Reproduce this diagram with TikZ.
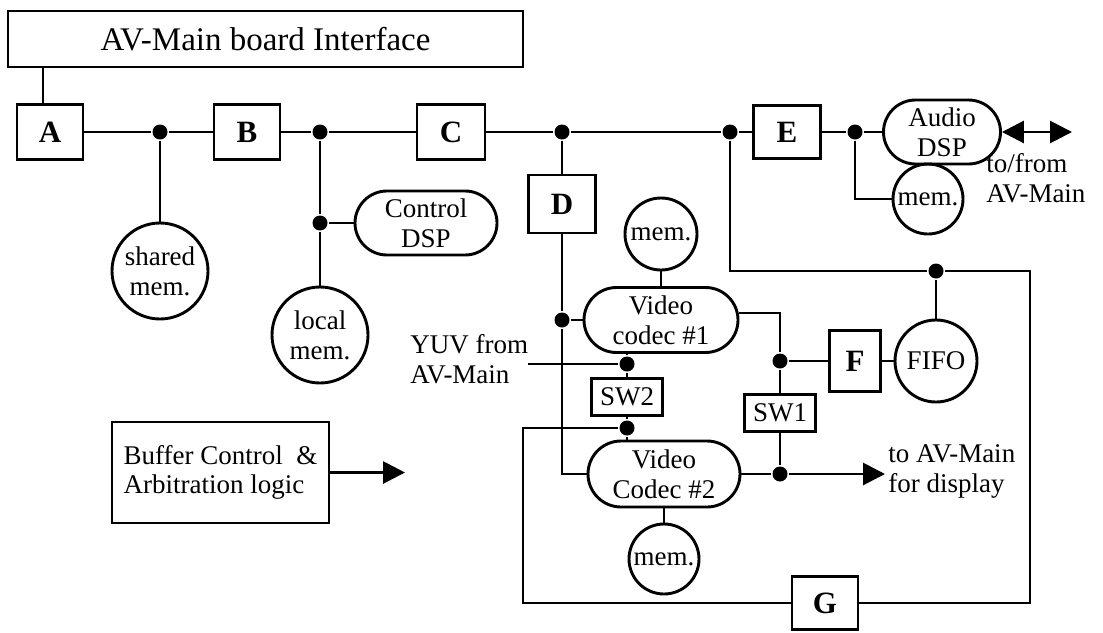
\documentclass[tikz,border=0pt]{standalone}
\usepackage{fontspec}
\setmainfont{Liberation Serif}
\usepackage{tikz}
\usetikzlibrary{shapes.misc,arrows.meta}
\tikzset{
    txt/.style={font=\fontsize{27}{30}\selectfont, inner sep=0pt, align=left},
    blk/.style={draw, inner sep=0pt, font=\fontsize{31}{32}\selectfont\bfseries},
    swbox/.style={draw, inner sep=0pt, minimum width=71pt, minimum height=37pt, font=\fontsize{27}{30}\selectfont},
    pill/.style={draw, rounded rectangle, inner sep=0pt, align=center, font=\fontsize{27}{30}\selectfont},
    memc/.style={draw, circle, inner sep=0pt, align=center, minimum size=#1, font=\fontsize{27}{30}\selectfont},
    jdot/.style={circle, fill, inner sep=0pt, minimum size=15pt},
    bigtip/.style={-{Triangle[length=22pt,width=22pt]}}
}
\begin{document}
\begin{tikzpicture}[x=1pt,y=-1pt,line width=2.9pt]
            \useasboundingbox (0,0) rectangle (1103,632);
            \node[draw,inner sep=0pt,minimum width=515pt,minimum height=56pt,font=\fontsize{33}{36}\selectfont] (iface) at (265.5,39) {AV-Main board Interface};
            \node[blk,minimum width=66pt,minimum height=55pt] (A) at (50,132) {A};
            \node[blk,minimum width=66pt,minimum height=55pt] (B) at (247,132) {B};
            \node[blk,minimum width=68pt,minimum height=55pt] (C) at (451,132) {C};
            \node[blk,minimum width=67pt,minimum height=58pt] (D) at (562,204) {D};
            \node[blk,minimum width=67pt,minimum height=53pt] (E) at (787,132) {E};
            \node[blk,minimum width=51pt,minimum height=61pt] (F) at (855,361) {F};
            \node[blk,minimum width=66pt,minimum height=53pt] (G) at (825,603) {G};
            \node[swbox] (sw2) at (627,397) {SW2};
            \node[swbox] (sw1) at (780,413) {SW1};
            \node[pill,minimum width=142pt,minimum height=64pt] (ctrl) at (426,223) {Control\\DSP};
            \node[pill,minimum width=117pt,minimum height=64pt] (audio) at (942,132) {Audio\\DSP};
            \node[pill,minimum width=154pt,minimum height=65pt] (codec1) at (661,320) {Video\\codec \#1};
            \node[pill,minimum width=152pt,minimum height=66pt] (codec2) at (664,474) {Video\\Codec \#2};
            \node[memc=96pt] (shared) at (160,271) {shared\\mem.};
            \node[memc=96pt] (local) at (320,335) {local\\mem.};
            \node[memc=72pt] (mem1) at (661,234) {mem.};
            \node[memc=70pt] (mem2) at (664,559) {mem.};
            \node[memc=70pt] (audmem) at (928,199) {mem.};
            \node[memc=82pt] (fifo) at (936,361) {FIFO};
            \node[draw,inner sep=0pt,minimum width=217pt,minimum height=101pt,align=left,font=\fontsize{27}{29}\selectfont] (buf) at (220.5,472.5) {Buffer Control\ \ \&\\Arbitration logic};
            \node[txt,anchor=west] (tofrom) at (985,178) {to/from\\AV-Main};
            \node[txt,anchor=west] (todisp) at (887,471) {to AV-Main\\for display};
            \node[txt,anchor=west] (yuv) at (409,359) {YUV from\\AV-Main};
            \node[jdot] (dshared) at (160,132) {};
            \node[jdot] (dlocal) at (320,132) {};
            \node[jdot] (dctrl) at (320,223) {};
            \node[jdot] (dd) at (562,132) {};
            \node[jdot] (de) at (730,132) {};
            \node[jdot] (daud) at (855,132) {};
            \node[jdot] (dcod1) at (562,320) {};
            \node[jdot] (dsw2a) at (627,364) {};
            \node[jdot] (dsw2b) at (627,428) {};
            \node[jdot] (dsw1a) at (780,361) {};
            \node[jdot] (dsw1b) at (780,474) {};
            \node[jdot] (dfifo) at (936,271) {};
            \coordinate (yuvin) at (528,364);
            \coordinate (gloop) at (523,428);
            \coordinate (fifocorner) at (1030,271);
            \coordinate (outtip) at (885,474);
            \coordinate (audtip) at (1072,132);
            \coordinate (buftip) at (405,472.5);
            \draw ([xshift=-7pt]A.north) -- ([xshift=-7pt]A.north |- iface.south);
            \draw (A.east) -- (dshared) -- (B.west);
            \draw (B.east) -- (dlocal) -- (C.west);
            \draw (C.east) -- (dd) -- (de) -- (E.west);
            \draw (E.east) -- (daud) -- (audio.west);
            \draw (dshared) -- (shared.north);
            \draw (dlocal) -- (dctrl) -- (local.north);
            \draw (dctrl) -- (ctrl.west);
            \draw (dd) -- (D.north);
            \draw (D.south) -- (dcod1) |- (codec2.west);
            \draw (dcod1) -- (codec1.west);
            \draw (mem1) -- (codec1.north);
            \draw (dsw2a |- codec1.south) -- (dsw2a) -- (sw2.north);
            \draw (yuvin) -- (dsw2a);
            \draw (sw2.south) -- (dsw2b) -- (dsw2b |- codec2.north);
            \draw (dsw2b) -- (gloop) |- (G.west);
            \draw (G.east) -| (fifocorner) -- (dfifo);
            \draw (dfifo) -| (de);
            \draw (dfifo) -- (fifo.north);
            \draw ([yshift=7pt]codec1.east) -| (dsw1a) -- (sw1.north);
            \draw (dsw1a) -- (F.west);
            \draw (F.east) -- (fifo.west);
            \draw (sw1.south) -- (dsw1b);
            \draw[bigtip] (codec2.east) -- (dsw1b) -- (outtip);
            \draw (codec2.south) -- (mem2.north);
            \draw (daud) |- (audmem.west);
            \draw[{Triangle[length=22pt,width=22pt]}-{Triangle[length=22pt,width=22pt]}] (audio.east) -- (audtip);
            \draw[bigtip] (buf.east) -- (buftip);
        \end{tikzpicture}
\end{document}
